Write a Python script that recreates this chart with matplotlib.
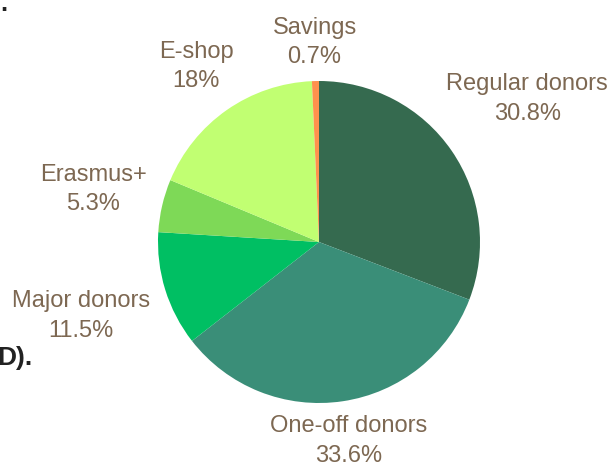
import numpy as np
import matplotlib.pyplot as plt

# --- data ---
labels = ['Regular donors', 'One-off donors', 'Major donors', 'Erasmus+', 'E-shop', 'Savings']
shares = [30.8, 33.6, 11.5, 5.3, 18.0, 0.7]
pct_text = ['30.8%', '33.6%', '11.5%', '5.3%', '18%', '0.7%']
colors = ['#356A4F', '#3A8E78', '#00BF63', '#7ED957', '#C1FF72', '#FF914D']

# radial distance of each label (in pie radii)
label_dist = [1.57, 1.25, 1.55, 1.44, 1.33, 1.24]

W, H = 612, 465
fig = plt.figure(figsize=(W / 100, H / 100), dpi=100)
ax = fig.add_axes([0, 0, 1, 1])

cx, cy, r = 319, H - 242, 161
wedges, _ = ax.pie(shares, colors=colors, startangle=90, counterclock=False,
                   center=(cx, cy), radius=r, frame=True,
                   wedgeprops=dict(linewidth=0))
ax.set_xlim(0, W)
ax.set_ylim(0, H)
ax.axis('off')

txt_color = '#7D6852'
for w, name, pct, d in zip(wedges, labels, pct_text, label_dist):
    ang = np.deg2rad((w.theta1 + w.theta2) / 2)
    x = cx + d * r * np.cos(ang)
    y = cy + d * r * np.sin(ang)
    ax.text(x, y, f'{name}\n{pct}', ha='center', va='center', fontsize=17,
            color=txt_color, family='Liberation Sans', linespacing=1.45)

# bits of the surrounding page showing at the edges
ax.text(-3, H - 358, 'D).', ha='left', va='center', fontsize=19,
        fontweight='bold', color='#222222', family='Liberation Sans')
ax.text(4, H - 4, '.', ha='center', va='center', fontsize=18,
        fontweight='bold', color='#222222', family='Liberation Sans')

fig.savefig('out.png', dpi=100)
